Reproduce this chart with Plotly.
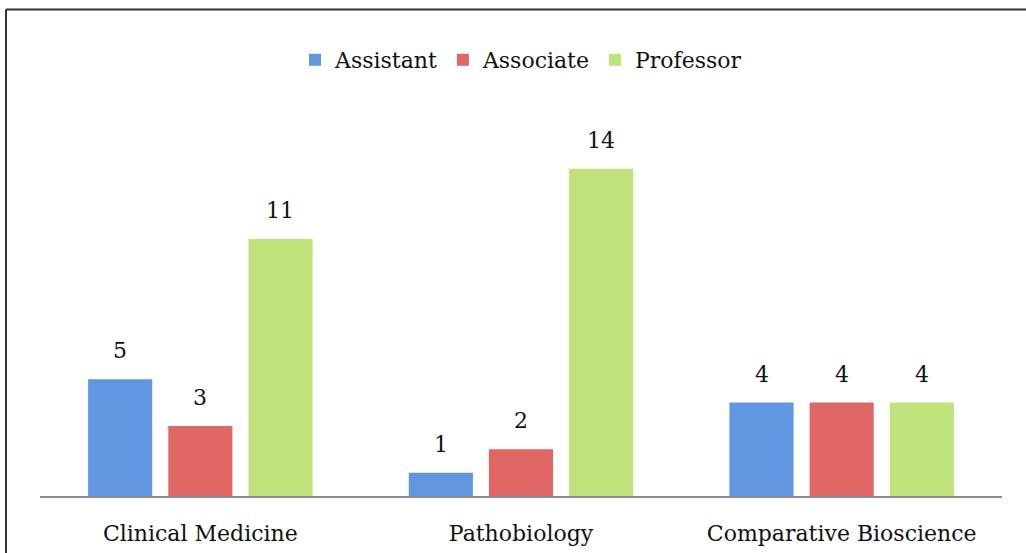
import plotly.graph_objects as go

categories = ["Clinical Medicine", "Pathobiology", "Comparative Bioscience"]
series_names = ["Assistant", "Associate", "Professor"]
assistant = [5, 1, 4]
associate = [3, 2, 4]
professor = [11, 14, 4]
series_values = [assistant, associate, professor]
colors = ["#6197e0", "#e16666", "#bfe27a"]

FONT = "DejaVu Serif"
W, H = 1026, 553
ML, MR, MT, MB = 40, 24, 122, 57
PW = W - ML - MR
PH = H - MT - MB
bargap = 0.25

fig = go.Figure()
for name, vals, c in zip(series_names, series_values, colors):
    fig.add_trace(go.Bar(
        x=categories, y=vals, name=name,
        marker=dict(color=c, line=dict(width=0)),
        hoverinfo="x+y+name",
    ))

# data labels above bars
slot_px = PW / len(categories) * (1 - bargap) / len(series_names)
for j, vals in enumerate(series_values):
    for i, v in enumerate(vals):
        fig.add_annotation(
            x=categories[i], y=v, xref="x", yref="y",
            text=str(v), showarrow=False,
            xshift=(j - 1) * slot_px, yshift=14, yanchor="bottom",
            font=dict(family=FONT, size=22, color="#111111"),
        )

def px_to_paper_x(p):
    return (p - ML) / PW

def px_to_paper_y(p):
    return (H - MB - p) / PH

# frame lines (top and left)
fig.add_shape(type="line", xref="paper", yref="paper",
              x0=px_to_paper_x(6), x1=px_to_paper_x(W + 2),
              y0=px_to_paper_y(9.5), y1=px_to_paper_y(9.5),
              line=dict(color="#333333", width=2))
fig.add_shape(type="line", xref="paper", yref="paper",
              x0=px_to_paper_x(6), x1=px_to_paper_x(6),
              y0=px_to_paper_y(9.5), y1=px_to_paper_y(H + 2),
              line=dict(color="#333333", width=2))

fig.update_layout(
    width=W, height=H,
    margin=dict(l=ML, r=MR, t=MT, b=MB, pad=0, autoexpand=False),
    paper_bgcolor="white", plot_bgcolor="white",
    barmode="group", bargap=bargap, bargroupgap=0.2,
    font=dict(family=FONT, size=22, color="#111111"),
    showlegend=True,
    legend=dict(orientation="h", x=0.5, xanchor="center",
                yref="container", y=1 - 60 / H, yanchor="middle",
                font=dict(family=FONT, size=22, color="#111111"),
                itemwidth=30, traceorder="normal"),
    xaxis=dict(showline=True, linecolor="#8a8a8a", linewidth=1.5,
               showgrid=False, ticks="", tickfont=dict(size=22),
               ticklabelstandoff=17, automargin=False, fixedrange=True),
    yaxis=dict(range=[0, 16], visible=False, showgrid=False, fixedrange=True),
)

fig.write_html("out.html", config={"displayModeBar": False},
               post_script="document.body.style.margin='0';")
